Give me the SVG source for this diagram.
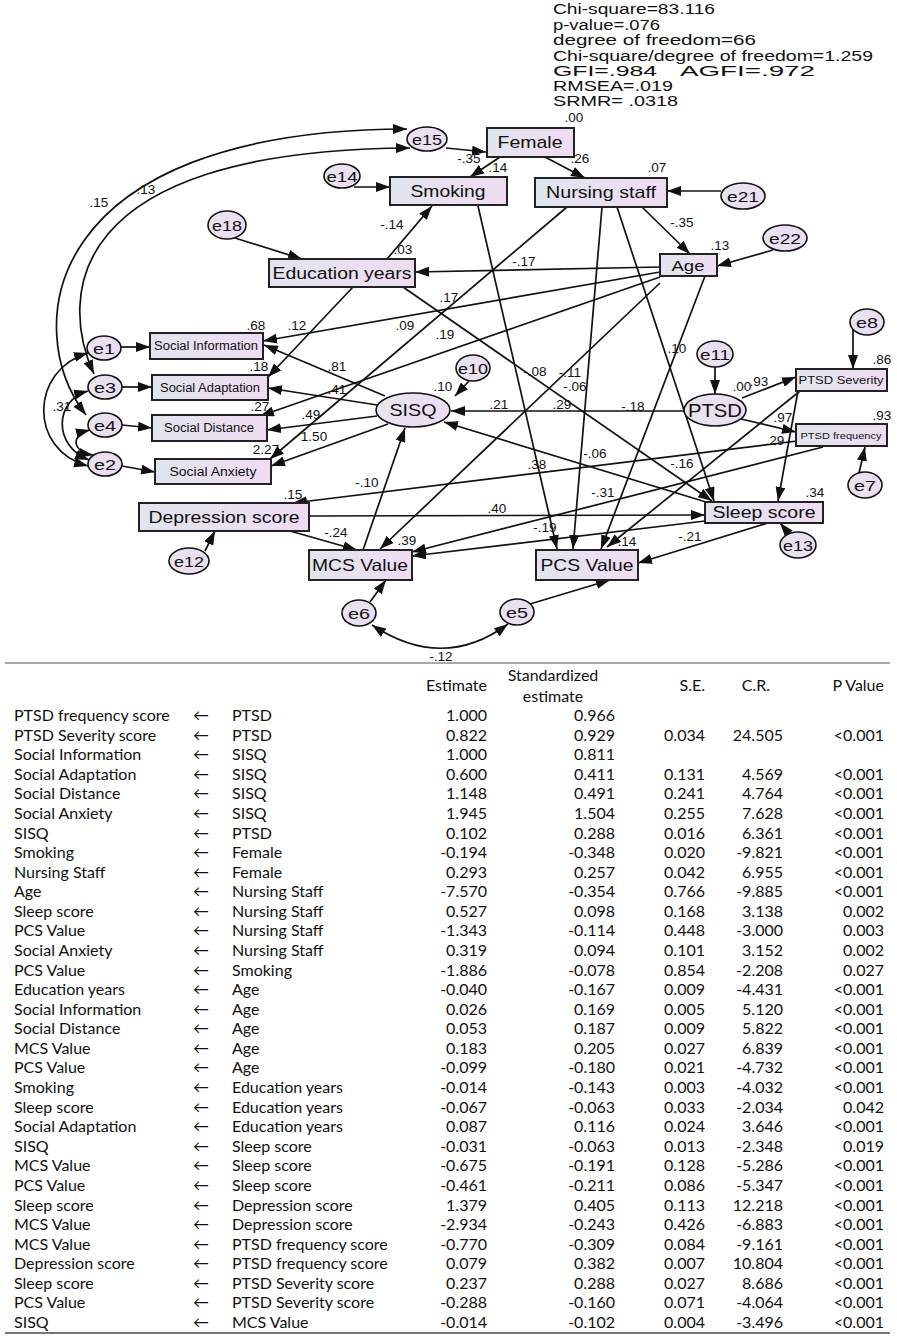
<svg xmlns="http://www.w3.org/2000/svg" width="897" height="1339" viewBox="0 0 897 1339">
<defs>
<linearGradient id="gb" x1="0" y1="0" x2="1" y2="0"><stop offset="0" stop-color="#e1e5ee"/><stop offset="1" stop-color="#f0dcf2"/></linearGradient>
<linearGradient id="ge" x1="0" y1="0" x2="1" y2="0"><stop offset="0" stop-color="#e8e4f0"/><stop offset="1" stop-color="#ecdcf0"/></linearGradient>
<marker id="ah" viewBox="0 0 14 10" refX="14" refY="5" markerWidth="14" markerHeight="10" markerUnits="userSpaceOnUse" orient="auto-start-reverse"><path d="M0,0 L14,5 L0,10 z" fill="#111"/></marker>
</defs>
<style>
.n rect{fill:url(#gb);stroke:#222;stroke-width:2}
.n ellipse{fill:url(#ge);stroke:#111;stroke-width:1.6}
.n text{font-family:"Liberation Sans",Arial,sans-serif;text-anchor:middle;fill:#111}
#conn line,#conn path{stroke:#111;stroke-width:1.7;fill:none;marker-end:url(#ah)}
#conn path.d{marker-start:url(#ah)}
.cf{font-family:"Liberation Sans",Arial,sans-serif;font-size:13.5px;text-anchor:middle;fill:#111}
.st{font-family:"Liberation Sans",Arial,sans-serif;font-size:15.5px;fill:#111}
.t{font-family:Lato,"Liberation Sans","DejaVu Sans",sans-serif;font-size:16px;fill:#111}
.r{text-anchor:end}
.m{text-anchor:middle}
</style>
<rect width="897" height="1339" fill="#fff"/>

<g id="stats">
<text class="st" x="553" y="14" textLength="162" lengthAdjust="spacingAndGlyphs">Chi-square=83.116</text>
<text class="st" x="553" y="30" textLength="107" lengthAdjust="spacingAndGlyphs">p-value=.076</text>
<text class="st" x="553" y="45" textLength="203" lengthAdjust="spacingAndGlyphs">degree of freedom=66</text>
<text class="st" x="553" y="61" textLength="320" lengthAdjust="spacingAndGlyphs">Chi-square/degree of freedom=1.259</text>
<text class="st" x="553" y="76" textLength="104" lengthAdjust="spacingAndGlyphs">GFI=.984</text>
<text class="st" x="680" y="76" textLength="135" lengthAdjust="spacingAndGlyphs">AGFI=.972</text>
<text class="st" x="553" y="91" textLength="120" lengthAdjust="spacingAndGlyphs">RMSEA=.019</text>
<text class="st" x="553" y="106" textLength="125" lengthAdjust="spacingAndGlyphs">SRMR= .0318</text>
</g>

<g id="conn">
<line x1="446" y1="148" x2="486" y2="152"/>
<line x1="500" y1="157" x2="470" y2="177"/>
<line x1="545" y1="157" x2="585" y2="178"/>
<line x1="354" y1="187" x2="390" y2="187"/>
<line x1="721" y1="191" x2="667" y2="191"/>
<line x1="773" y1="250" x2="717" y2="266"/>
<line x1="642" y1="207" x2="690" y2="254"/>
<line x1="235" y1="238" x2="302" y2="259"/>
<line x1="660" y1="267" x2="415" y2="272"/>
<line x1="387" y1="259" x2="432" y2="206"/>
<line x1="660" y1="272" x2="263" y2="341"/>
<line x1="660" y1="277" x2="260" y2="416"/>
<line x1="353" y1="287" x2="268" y2="377"/>
<line x1="567" y1="207" x2="270" y2="459"/>
<line x1="403" y1="287" x2="712" y2="501"/>
<line x1="617" y1="207" x2="714" y2="501"/>
<line x1="602" y1="207" x2="573" y2="549"/>
<line x1="478" y1="206" x2="557" y2="549"/>
<line x1="705" y1="276" x2="601" y2="549"/>
<line x1="660" y1="283" x2="380" y2="549"/>
<line x1="800" y1="391" x2="607" y2="547"/>
<line x1="798" y1="391" x2="778" y2="501"/>
<line x1="742" y1="398" x2="796" y2="377"/>
<line x1="741" y1="419" x2="796" y2="432"/>
<line x1="715" y1="367" x2="715" y2="394"/>
<line x1="853" y1="328" x2="853" y2="369"/>
<line x1="859" y1="473" x2="865" y2="447"/>
<line x1="684" y1="411" x2="451" y2="411"/>
<line x1="469" y1="381" x2="455" y2="396"/>
<line x1="385" y1="396" x2="264" y2="345"/>
<line x1="377" y1="405" x2="268" y2="388"/>
<line x1="377" y1="416" x2="267" y2="430"/>
<line x1="388" y1="424" x2="271" y2="466"/>
<line x1="706" y1="502" x2="444" y2="422"/>
<line x1="363" y1="550" x2="405" y2="428"/>
<line x1="309" y1="516" x2="705" y2="515"/>
<line x1="290" y1="531" x2="357" y2="550"/>
<line x1="823" y1="447" x2="412" y2="552"/>
<line x1="797" y1="441" x2="293" y2="503"/>
<line x1="705" y1="521" x2="412" y2="556"/>
<line x1="768" y1="523" x2="638" y2="563"/>
<line x1="790" y1="535" x2="780" y2="523"/>
<line x1="205" y1="551" x2="215" y2="531"/>
<line x1="370" y1="602" x2="386" y2="580"/>
<line x1="530" y1="604" x2="610" y2="580"/>
<line x1="121" y1="347" x2="150" y2="347"/>
<line x1="122" y1="387" x2="152" y2="387"/>
<line x1="122" y1="425" x2="152" y2="428"/>
<line x1="122" y1="466" x2="155" y2="472"/>
<path class="d" d="M86,415 C20,330 40,130 407,129"/>
<path class="d" d="M94,374 C60,300 60,150 410,148"/>
<path class="d" d="M88,353 C30,370 28,450 88,466"/>
<path class="d" d="M88,391 C55,400 52,445 89,460"/>
<path class="d" d="M90,430 C70,435 72,452 93,455"/>
<path class="d" d="M372,625 Q443,672 508,624"/>
</g>

<g id="labels">
<text class="cf" x="99" y="207">.15</text>
<text class="cf" x="146" y="194">.13</text>
<text class="cf" x="574" y="122">.00</text>
<text class="cf" x="469" y="163">-.35</text>
<text class="cf" x="498" y="172">.14</text>
<text class="cf" x="580" y="163">.26</text>
<text class="cf" x="657" y="172">.07</text>
<text class="cf" x="682" y="227">-.35</text>
<text class="cf" x="720" y="250">.13</text>
<text class="cf" x="392" y="229">-.14</text>
<text class="cf" x="403" y="254">.03</text>
<text class="cf" x="524" y="266">-.17</text>
<text class="cf" x="449" y="302">.17</text>
<text class="cf" x="256" y="330">.68</text>
<text class="cf" x="297" y="330">.12</text>
<text class="cf" x="405" y="330">.09</text>
<text class="cf" x="445" y="339">.19</text>
<text class="cf" x="259" y="371">.18</text>
<text class="cf" x="337" y="371">.81</text>
<text class="cf" x="337" y="394">.41</text>
<text class="cf" x="260" y="411">.27</text>
<text class="cf" x="311" y="419">.49</text>
<text class="cf" x="314" y="441">1.50</text>
<text class="cf" x="266" y="454">2.27</text>
<text class="cf" x="62" y="411">.31</text>
<text class="cf" x="677" y="353">.10</text>
<text class="cf" x="535" y="376">-.08</text>
<text class="cf" x="570" y="377">-.11</text>
<text class="cf" x="575" y="391">-.06</text>
<text class="cf" x="443" y="391">.10</text>
<text class="cf" x="499" y="409">.21</text>
<text class="cf" x="562" y="409">.29</text>
<text class="cf" x="633" y="411">-.18</text>
<text class="cf" x="742" y="391">.00</text>
<text class="cf" x="759" y="386">.93</text>
<text class="cf" x="882" y="364">.86</text>
<text class="cf" x="783" y="422">.97</text>
<text class="cf" x="882" y="420">.93</text>
<text class="cf" x="775" y="445">.29</text>
<text class="cf" x="595" y="458">-.06</text>
<text class="cf" x="537" y="469">.38</text>
<text class="cf" x="682" y="468">-.16</text>
<text class="cf" x="367" y="487">-.10</text>
<text class="cf" x="293" y="499">.15</text>
<text class="cf" x="603" y="497">-.31</text>
<text class="cf" x="815" y="497">.34</text>
<text class="cf" x="497" y="513">.40</text>
<text class="cf" x="545" y="532">-.19</text>
<text class="cf" x="336" y="537">-.24</text>
<text class="cf" x="407" y="545">.39</text>
<text class="cf" x="627" y="546">.14</text>
<text class="cf" x="690" y="541">-.21</text>
<text class="cf" x="441" y="661">-.12</text>
</g>

<g id="Female" class="n"><rect x="487" y="128" width="87" height="29"/><text x="530" y="148" font-size="17" textLength="65" lengthAdjust="spacingAndGlyphs">Female</text></g>
<g id="Smoking" class="n"><rect x="390" y="177" width="117" height="28"/><text x="448" y="197" font-size="16.5" textLength="75" lengthAdjust="spacingAndGlyphs">Smoking</text></g>
<g id="NursingStaff" class="n"><rect x="535" y="178" width="132" height="29"/><text x="601" y="198" font-size="16.5" textLength="110" lengthAdjust="spacingAndGlyphs">Nursing staff</text></g>
<g id="Age" class="n"><rect x="660" y="254" width="57" height="22"/><text x="688" y="271" font-size="15.5" textLength="33" lengthAdjust="spacingAndGlyphs">Age</text></g>
<g id="EducationYears" class="n"><rect x="269" y="259" width="146" height="28"/><text x="342" y="279" font-size="16" textLength="139" lengthAdjust="spacingAndGlyphs">Education years</text></g>
<g id="SocialInformation" class="n"><rect x="150" y="333" width="113" height="26"/><text x="206" y="350" font-size="12.5" textLength="104" lengthAdjust="spacingAndGlyphs">Social Information</text></g>
<g id="SocialAdaptation" class="n"><rect x="152" y="375" width="116" height="25"/><text x="210" y="392" font-size="12.5" textLength="100" lengthAdjust="spacingAndGlyphs">Social Adaptation</text></g>
<g id="SocialDistance" class="n"><rect x="152" y="415" width="115" height="26"/><text x="209" y="432" font-size="12.5" textLength="90" lengthAdjust="spacingAndGlyphs">Social Distance</text></g>
<g id="SocialAnxiety" class="n"><rect x="155" y="459" width="116" height="25"/><text x="213" y="476" font-size="12.5" textLength="87" lengthAdjust="spacingAndGlyphs">Social Anxiety</text></g>
<g id="PTSDSeverity" class="n"><rect x="796" y="369" width="91" height="22"/><text x="841" y="384" font-size="11.5" textLength="85" lengthAdjust="spacingAndGlyphs">PTSD Severity</text></g>
<g id="PTSDFrequency" class="n"><rect x="796" y="424" width="91" height="22"/><text x="841" y="438.5" font-size="9.5" textLength="81" lengthAdjust="spacingAndGlyphs">PTSD frequency</text></g>
<g id="SleepScore" class="n"><rect x="705" y="502" width="118" height="21"/><text x="764" y="518" font-size="16" textLength="103" lengthAdjust="spacingAndGlyphs">Sleep score</text></g>
<g id="PCSValue" class="n"><rect x="536" y="550" width="102" height="30"/><text x="587" y="571" font-size="16.5" textLength="93" lengthAdjust="spacingAndGlyphs">PCS Value</text></g>
<g id="MCSValue" class="n"><rect x="309" y="550" width="103" height="30"/><text x="360" y="571" font-size="16.5" textLength="96" lengthAdjust="spacingAndGlyphs">MCS Value</text></g>
<g id="DepressionScore" class="n"><rect x="139" y="503" width="170" height="28"/><text x="224" y="523" font-size="16.5" textLength="151" lengthAdjust="spacingAndGlyphs">Depression score</text></g>
<g id="SISQ" class="n"><ellipse cx="413" cy="410" rx="37" ry="17"/><text x="413" y="416" font-size="16.5" textLength="47" lengthAdjust="spacingAndGlyphs">SISQ</text></g>
<g id="PTSD" class="n"><ellipse cx="715" cy="410" rx="31" ry="16"/><text x="715" y="416.5" font-size="17.5" textLength="54" lengthAdjust="spacingAndGlyphs">PTSD</text></g>
<g id="e15" class="n"><ellipse cx="427" cy="139" rx="20" ry="12"/><text x="427" y="144.5" font-size="15.5" textLength="30" lengthAdjust="spacingAndGlyphs">e15</text></g>
<g id="e14" class="n"><ellipse cx="342" cy="176" rx="18" ry="12"/><text x="342" y="181.5" font-size="15.5" textLength="31" lengthAdjust="spacingAndGlyphs">e14</text></g>
<g id="e18" class="n"><ellipse cx="227" cy="225" rx="19" ry="14"/><text x="227" y="230.5" font-size="15.5" textLength="30" lengthAdjust="spacingAndGlyphs">e18</text></g>
<g id="e21" class="n"><ellipse cx="743" cy="196" rx="22" ry="13"/><text x="743" y="201.5" font-size="15.5" textLength="32" lengthAdjust="spacingAndGlyphs">e21</text></g>
<g id="e22" class="n"><ellipse cx="785" cy="238" rx="22" ry="13"/><text x="785" y="243.5" font-size="15.5" textLength="32" lengthAdjust="spacingAndGlyphs">e22</text></g>
<g id="e1" class="n"><ellipse cx="104" cy="348" rx="17" ry="12"/><text x="104" y="353.5" font-size="15.5" textLength="22" lengthAdjust="spacingAndGlyphs">e1</text></g>
<g id="e3" class="n"><ellipse cx="105" cy="387" rx="17" ry="12"/><text x="105" y="392.5" font-size="15.5" textLength="22" lengthAdjust="spacingAndGlyphs">e3</text></g>
<g id="e4" class="n"><ellipse cx="105" cy="425" rx="17" ry="12"/><text x="105" y="430.5" font-size="15.5" textLength="22" lengthAdjust="spacingAndGlyphs">e4</text></g>
<g id="e2" class="n"><ellipse cx="105" cy="464" rx="17" ry="12"/><text x="105" y="469.5" font-size="15.5" textLength="22" lengthAdjust="spacingAndGlyphs">e2</text></g>
<g id="e10" class="n"><ellipse cx="473" cy="368" rx="17" ry="13"/><text x="473" y="373.5" font-size="15.5" textLength="30" lengthAdjust="spacingAndGlyphs">e10</text></g>
<g id="e11" class="n"><ellipse cx="715" cy="354" rx="18" ry="13"/><text x="715" y="359.5" font-size="15.5" textLength="30" lengthAdjust="spacingAndGlyphs">e11</text></g>
<g id="e8" class="n"><ellipse cx="867" cy="322" rx="17" ry="13"/><text x="867" y="327.5" font-size="15.5" textLength="22" lengthAdjust="spacingAndGlyphs">e8</text></g>
<g id="e7" class="n"><ellipse cx="865" cy="485" rx="17" ry="13"/><text x="865" y="490.5" font-size="15.5" textLength="22" lengthAdjust="spacingAndGlyphs">e7</text></g>
<g id="e13" class="n"><ellipse cx="798" cy="545" rx="18" ry="13"/><text x="798" y="550.5" font-size="15.5" textLength="30" lengthAdjust="spacingAndGlyphs">e13</text></g>
<g id="e12" class="n"><ellipse cx="189" cy="561" rx="20" ry="13"/><text x="189" y="566.5" font-size="15.5" textLength="30" lengthAdjust="spacingAndGlyphs">e12</text></g>
<g id="e6" class="n"><ellipse cx="359" cy="613" rx="17" ry="13"/><text x="359" y="618.5" font-size="15.5" textLength="22" lengthAdjust="spacingAndGlyphs">e6</text></g>
<g id="e5" class="n"><ellipse cx="517" cy="612" rx="17" ry="13"/><text x="517" y="617.5" font-size="15.5" textLength="22" lengthAdjust="spacingAndGlyphs">e5</text></g>

<g id="table">
<line x1="5" y1="663" x2="890" y2="663" stroke="#555" stroke-width="1.2"/>
<line x1="5" y1="1333" x2="890" y2="1333" stroke="#777" stroke-width="2"/>
<text class="t r" x="487" y="691">Estimate</text>
<text class="t m" x="553" y="681">Standardized</text>
<text class="t m" x="553" y="702">estimate</text>
<text class="t r" x="705" y="691">S.E.</text>
<text class="t r" x="770" y="691">C.R.</text>
<text class="t r" x="884" y="691">P Value</text>
</g>
<g id="rows" class="t">
<text y="721"><tspan x="14">PTSD frequency score</tspan><tspan x="193">←</tspan><tspan x="232">PTSD</tspan><tspan x="487" text-anchor="end">1.000</tspan><tspan x="615" text-anchor="end">0.966</tspan></text>
<text y="740.6"><tspan x="14">PTSD Severity score</tspan><tspan x="193">←</tspan><tspan x="232">PTSD</tspan><tspan x="487" text-anchor="end">0.822</tspan><tspan x="615" text-anchor="end">0.929</tspan><tspan x="705" text-anchor="end">0.034</tspan><tspan x="783" text-anchor="end">24.505</tspan><tspan x="884" text-anchor="end">&lt;0.001</tspan></text>
<text y="760.2"><tspan x="14">Social Information</tspan><tspan x="193">←</tspan><tspan x="232">SISQ</tspan><tspan x="487" text-anchor="end">1.000</tspan><tspan x="615" text-anchor="end">0.811</tspan></text>
<text y="779.7"><tspan x="14">Social Adaptation</tspan><tspan x="193">←</tspan><tspan x="232">SISQ</tspan><tspan x="487" text-anchor="end">0.600</tspan><tspan x="615" text-anchor="end">0.411</tspan><tspan x="705" text-anchor="end">0.131</tspan><tspan x="783" text-anchor="end">4.569</tspan><tspan x="884" text-anchor="end">&lt;0.001</tspan></text>
<text y="799.3"><tspan x="14">Social Distance</tspan><tspan x="193">←</tspan><tspan x="232">SISQ</tspan><tspan x="487" text-anchor="end">1.148</tspan><tspan x="615" text-anchor="end">0.491</tspan><tspan x="705" text-anchor="end">0.241</tspan><tspan x="783" text-anchor="end">4.764</tspan><tspan x="884" text-anchor="end">&lt;0.001</tspan></text>
<text y="818.9"><tspan x="14">Social Anxiety</tspan><tspan x="193">←</tspan><tspan x="232">SISQ</tspan><tspan x="487" text-anchor="end">1.945</tspan><tspan x="615" text-anchor="end">1.504</tspan><tspan x="705" text-anchor="end">0.255</tspan><tspan x="783" text-anchor="end">7.628</tspan><tspan x="884" text-anchor="end">&lt;0.001</tspan></text>
<text y="838.5"><tspan x="14">SISQ</tspan><tspan x="193">←</tspan><tspan x="232">PTSD</tspan><tspan x="487" text-anchor="end">0.102</tspan><tspan x="615" text-anchor="end">0.288</tspan><tspan x="705" text-anchor="end">0.016</tspan><tspan x="783" text-anchor="end">6.361</tspan><tspan x="884" text-anchor="end">&lt;0.001</tspan></text>
<text y="858.1"><tspan x="14">Smoking</tspan><tspan x="193">←</tspan><tspan x="232">Female</tspan><tspan x="487" text-anchor="end">-0.194</tspan><tspan x="615" text-anchor="end">-0.348</tspan><tspan x="705" text-anchor="end">0.020</tspan><tspan x="783" text-anchor="end">-9.821</tspan><tspan x="884" text-anchor="end">&lt;0.001</tspan></text>
<text y="877.6"><tspan x="14">Nursing Staff</tspan><tspan x="193">←</tspan><tspan x="232">Female</tspan><tspan x="487" text-anchor="end">0.293</tspan><tspan x="615" text-anchor="end">0.257</tspan><tspan x="705" text-anchor="end">0.042</tspan><tspan x="783" text-anchor="end">6.955</tspan><tspan x="884" text-anchor="end">&lt;0.001</tspan></text>
<text y="897.2"><tspan x="14">Age</tspan><tspan x="193">←</tspan><tspan x="232">Nursing Staff</tspan><tspan x="487" text-anchor="end">-7.570</tspan><tspan x="615" text-anchor="end">-0.354</tspan><tspan x="705" text-anchor="end">0.766</tspan><tspan x="783" text-anchor="end">-9.885</tspan><tspan x="884" text-anchor="end">&lt;0.001</tspan></text>
<text y="916.8"><tspan x="14">Sleep score</tspan><tspan x="193">←</tspan><tspan x="232">Nursing Staff</tspan><tspan x="487" text-anchor="end">0.527</tspan><tspan x="615" text-anchor="end">0.098</tspan><tspan x="705" text-anchor="end">0.168</tspan><tspan x="783" text-anchor="end">3.138</tspan><tspan x="884" text-anchor="end">0.002</tspan></text>
<text y="936.4"><tspan x="14">PCS Value</tspan><tspan x="193">←</tspan><tspan x="232">Nursing Staff</tspan><tspan x="487" text-anchor="end">-1.343</tspan><tspan x="615" text-anchor="end">-0.114</tspan><tspan x="705" text-anchor="end">0.448</tspan><tspan x="783" text-anchor="end">-3.000</tspan><tspan x="884" text-anchor="end">0.003</tspan></text>
<text y="955.9"><tspan x="14">Social Anxiety</tspan><tspan x="193">←</tspan><tspan x="232">Nursing Staff</tspan><tspan x="487" text-anchor="end">0.319</tspan><tspan x="615" text-anchor="end">0.094</tspan><tspan x="705" text-anchor="end">0.101</tspan><tspan x="783" text-anchor="end">3.152</tspan><tspan x="884" text-anchor="end">0.002</tspan></text>
<text y="975.5"><tspan x="14">PCS Value</tspan><tspan x="193">←</tspan><tspan x="232">Smoking</tspan><tspan x="487" text-anchor="end">-1.886</tspan><tspan x="615" text-anchor="end">-0.078</tspan><tspan x="705" text-anchor="end">0.854</tspan><tspan x="783" text-anchor="end">-2.208</tspan><tspan x="884" text-anchor="end">0.027</tspan></text>
<text y="995.1"><tspan x="14">Education years</tspan><tspan x="193">←</tspan><tspan x="232">Age</tspan><tspan x="487" text-anchor="end">-0.040</tspan><tspan x="615" text-anchor="end">-0.167</tspan><tspan x="705" text-anchor="end">0.009</tspan><tspan x="783" text-anchor="end">-4.431</tspan><tspan x="884" text-anchor="end">&lt;0.001</tspan></text>
<text y="1014.7"><tspan x="14">Social Information</tspan><tspan x="193">←</tspan><tspan x="232">Age</tspan><tspan x="487" text-anchor="end">0.026</tspan><tspan x="615" text-anchor="end">0.169</tspan><tspan x="705" text-anchor="end">0.005</tspan><tspan x="783" text-anchor="end">5.120</tspan><tspan x="884" text-anchor="end">&lt;0.001</tspan></text>
<text y="1034.3"><tspan x="14">Social Distance</tspan><tspan x="193">←</tspan><tspan x="232">Age</tspan><tspan x="487" text-anchor="end">0.053</tspan><tspan x="615" text-anchor="end">0.187</tspan><tspan x="705" text-anchor="end">0.009</tspan><tspan x="783" text-anchor="end">5.822</tspan><tspan x="884" text-anchor="end">&lt;0.001</tspan></text>
<text y="1053.8"><tspan x="14">MCS Value</tspan><tspan x="193">←</tspan><tspan x="232">Age</tspan><tspan x="487" text-anchor="end">0.183</tspan><tspan x="615" text-anchor="end">0.205</tspan><tspan x="705" text-anchor="end">0.027</tspan><tspan x="783" text-anchor="end">6.839</tspan><tspan x="884" text-anchor="end">&lt;0.001</tspan></text>
<text y="1073.4"><tspan x="14">PCS Value</tspan><tspan x="193">←</tspan><tspan x="232">Age</tspan><tspan x="487" text-anchor="end">-0.099</tspan><tspan x="615" text-anchor="end">-0.180</tspan><tspan x="705" text-anchor="end">0.021</tspan><tspan x="783" text-anchor="end">-4.732</tspan><tspan x="884" text-anchor="end">&lt;0.001</tspan></text>
<text y="1093"><tspan x="14">Smoking</tspan><tspan x="193">←</tspan><tspan x="232">Education years</tspan><tspan x="487" text-anchor="end">-0.014</tspan><tspan x="615" text-anchor="end">-0.143</tspan><tspan x="705" text-anchor="end">0.003</tspan><tspan x="783" text-anchor="end">-4.032</tspan><tspan x="884" text-anchor="end">&lt;0.001</tspan></text>
<text y="1112.6"><tspan x="14">Sleep score</tspan><tspan x="193">←</tspan><tspan x="232">Education years</tspan><tspan x="487" text-anchor="end">-0.067</tspan><tspan x="615" text-anchor="end">-0.063</tspan><tspan x="705" text-anchor="end">0.033</tspan><tspan x="783" text-anchor="end">-2.034</tspan><tspan x="884" text-anchor="end">0.042</tspan></text>
<text y="1132.2"><tspan x="14">Social Adaptation</tspan><tspan x="193">←</tspan><tspan x="232">Education years</tspan><tspan x="487" text-anchor="end">0.087</tspan><tspan x="615" text-anchor="end">0.116</tspan><tspan x="705" text-anchor="end">0.024</tspan><tspan x="783" text-anchor="end">3.646</tspan><tspan x="884" text-anchor="end">&lt;0.001</tspan></text>
<text y="1151.7"><tspan x="14">SISQ</tspan><tspan x="193">←</tspan><tspan x="232">Sleep score</tspan><tspan x="487" text-anchor="end">-0.031</tspan><tspan x="615" text-anchor="end">-0.063</tspan><tspan x="705" text-anchor="end">0.013</tspan><tspan x="783" text-anchor="end">-2.348</tspan><tspan x="884" text-anchor="end">0.019</tspan></text>
<text y="1171.3"><tspan x="14">MCS Value</tspan><tspan x="193">←</tspan><tspan x="232">Sleep score</tspan><tspan x="487" text-anchor="end">-0.675</tspan><tspan x="615" text-anchor="end">-0.191</tspan><tspan x="705" text-anchor="end">0.128</tspan><tspan x="783" text-anchor="end">-5.286</tspan><tspan x="884" text-anchor="end">&lt;0.001</tspan></text>
<text y="1190.9"><tspan x="14">PCS Value</tspan><tspan x="193">←</tspan><tspan x="232">Sleep score</tspan><tspan x="487" text-anchor="end">-0.461</tspan><tspan x="615" text-anchor="end">-0.211</tspan><tspan x="705" text-anchor="end">0.086</tspan><tspan x="783" text-anchor="end">-5.347</tspan><tspan x="884" text-anchor="end">&lt;0.001</tspan></text>
<text y="1210.5"><tspan x="14">Sleep score</tspan><tspan x="193">←</tspan><tspan x="232">Depression score</tspan><tspan x="487" text-anchor="end">1.379</tspan><tspan x="615" text-anchor="end">0.405</tspan><tspan x="705" text-anchor="end">0.113</tspan><tspan x="783" text-anchor="end">12.218</tspan><tspan x="884" text-anchor="end">&lt;0.001</tspan></text>
<text y="1230"><tspan x="14">MCS Value</tspan><tspan x="193">←</tspan><tspan x="232">Depression score</tspan><tspan x="487" text-anchor="end">-2.934</tspan><tspan x="615" text-anchor="end">-0.243</tspan><tspan x="705" text-anchor="end">0.426</tspan><tspan x="783" text-anchor="end">-6.883</tspan><tspan x="884" text-anchor="end">&lt;0.001</tspan></text>
<text y="1249.6"><tspan x="14">MCS Value</tspan><tspan x="193">←</tspan><tspan x="232">PTSD frequency score</tspan><tspan x="487" text-anchor="end">-0.770</tspan><tspan x="615" text-anchor="end">-0.309</tspan><tspan x="705" text-anchor="end">0.084</tspan><tspan x="783" text-anchor="end">-9.161</tspan><tspan x="884" text-anchor="end">&lt;0.001</tspan></text>
<text y="1269.2"><tspan x="14">Depression score</tspan><tspan x="193">←</tspan><tspan x="232">PTSD frequency score</tspan><tspan x="487" text-anchor="end">0.079</tspan><tspan x="615" text-anchor="end">0.382</tspan><tspan x="705" text-anchor="end">0.007</tspan><tspan x="783" text-anchor="end">10.804</tspan><tspan x="884" text-anchor="end">&lt;0.001</tspan></text>
<text y="1288.8"><tspan x="14">Sleep score</tspan><tspan x="193">←</tspan><tspan x="232">PTSD Severity score</tspan><tspan x="487" text-anchor="end">0.237</tspan><tspan x="615" text-anchor="end">0.288</tspan><tspan x="705" text-anchor="end">0.027</tspan><tspan x="783" text-anchor="end">8.686</tspan><tspan x="884" text-anchor="end">&lt;0.001</tspan></text>
<text y="1308.4"><tspan x="14">PCS Value</tspan><tspan x="193">←</tspan><tspan x="232">PTSD Severity score</tspan><tspan x="487" text-anchor="end">-0.288</tspan><tspan x="615" text-anchor="end">-0.160</tspan><tspan x="705" text-anchor="end">0.071</tspan><tspan x="783" text-anchor="end">-4.064</tspan><tspan x="884" text-anchor="end">&lt;0.001</tspan></text>
<text y="1327.9"><tspan x="14">SISQ</tspan><tspan x="193">←</tspan><tspan x="232">MCS Value</tspan><tspan x="487" text-anchor="end">-0.014</tspan><tspan x="615" text-anchor="end">-0.102</tspan><tspan x="705" text-anchor="end">0.004</tspan><tspan x="783" text-anchor="end">-3.496</tspan><tspan x="884" text-anchor="end">&lt;0.001</tspan></text>
</g>
</svg>
